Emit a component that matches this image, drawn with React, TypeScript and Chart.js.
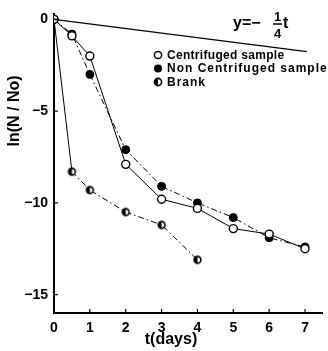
import React, { useEffect, useRef } from "react";
import { Chart, registerables } from "chart.js";

Chart.register(...registerables);

const days = [0, 0.5, 1, 2, 3, 4, 5, 6, 7];
const centrifuged = [0, -0.9, -2.0, -7.9, -9.8, -10.3, -11.4, -11.7, -12.5];
const nonCentrifuged = [0, -0.8, -3.0, -7.1, -9.1, -10.0, -10.8, -11.9, -12.4];
const blankDays = [0, 0.5, 1, 2, 3, 4];
const blank = [0, -8.3, -9.3, -10.5, -11.2, -13.1];
const refLineDays = [0, 7.05];
const refLine = [0, -1.76];
const xTicks = [0, 1, 2, 3, 4, 5, 6, 7];
const yTicks = [-15, -10, -5, 0];
const legendLabels = ["Centrifuged sample", "Non Centrifuged sample", "Brank"];

const FONT = "'Liberation Sans', Arial, sans-serif";

function toXY(xs: number[], ys: number[]) {
  return xs.map((x, i) => ({ x, y: ys[i] }));
}

function makeHalfCanvas(r: number) {
  const c = document.createElement("canvas");
  const s = Math.ceil(r * 2 + 4);
  c.width = s;
  c.height = s;
  const ctx = c.getContext("2d")!;
  drawHalf(ctx, s / 2, s / 2, r);
  return c;
}

function drawHalf(ctx: CanvasRenderingContext2D, x: number, y: number, r: number) {
  ctx.save();
  ctx.fillStyle = "#fff";
  ctx.beginPath();
  ctx.arc(x, y, r, 0, Math.PI * 2);
  ctx.fill();
  ctx.fillStyle = "#000";
  ctx.beginPath();
  ctx.arc(x, y, r, Math.PI / 2, (Math.PI * 3) / 2);
  ctx.closePath();
  ctx.fill();
  ctx.strokeStyle = "#000";
  ctx.lineWidth = 1.6;
  ctx.beginPath();
  ctx.arc(x, y, r, 0, Math.PI * 2);
  ctx.stroke();
  ctx.restore();
}

const decorPlugin = {
  id: "decor",
  afterDraw(chart: any) {
    const ctx: CanvasRenderingContext2D = chart.ctx;
    const xs = chart.scales.x;
    const ys = chart.scales.y;
    const ca = chart.chartArea;
    ctx.save();
    ctx.strokeStyle = "#000";
    ctx.lineWidth = 1.2;
    // inner ticks
    xTicks.forEach((v) => {
      if (v === 0) return;
      const px = xs.getPixelForValue(v);
      ctx.beginPath();
      ctx.moveTo(px, ca.bottom);
      ctx.lineTo(px, ca.bottom - 4);
      ctx.stroke();
    });
    yTicks.forEach((v) => {
      const py = ys.getPixelForValue(v);
      ctx.beginPath();
      ctx.moveTo(ca.left, py);
      ctx.lineTo(ca.left + 4, py);
      ctx.stroke();
    });

    // legend
    const lx = 158;
    const rows = [55, 68.5, 82];
    const spacing = ["0.3px", "1px", "1px"];
    ctx.font = `bold 12px ${FONT}`;
    ctx.textBaseline = "middle";
    ctx.textAlign = "left";
    ctx.fillStyle = "#000";
    rows.forEach((ry, i) => {
      if (i === 0) {
        ctx.fillStyle = "#fff";
        ctx.beginPath();
        ctx.arc(lx, ry, 3.6, 0, Math.PI * 2);
        ctx.fill();
        ctx.lineWidth = 1.5;
        ctx.stroke();
      } else if (i === 1) {
        ctx.fillStyle = "#000";
        ctx.beginPath();
        ctx.arc(lx, ry, 4, 0, Math.PI * 2);
        ctx.fill();
      } else {
        drawHalf(ctx, lx, ry, 3.6);
      }
      ctx.fillStyle = "#000";
      (ctx as any).letterSpacing = spacing[i];
      ctx.fillText(legendLabels[i], 167, ry + 0.5);
    });
    (ctx as any).letterSpacing = "0px";

    // equation y = -1/4 t
    ctx.font = `bold 16px ${FONT}`;
    ctx.textBaseline = "alphabetic";
    ctx.fillText("y=\u2212", 233, 28);
    ctx.font = `bold 13px ${FONT}`;
    ctx.textAlign = "center";
    ctx.fillText("1", 277.5, 21);
    ctx.fillText("4", 277.5, 38);
    ctx.lineWidth = 1.5;
    ctx.beginPath();
    ctx.moveTo(273, 24);
    ctx.lineTo(282, 24);
    ctx.stroke();
    ctx.font = `bold 16px ${FONT}`;
    ctx.textAlign = "left";
    ctx.fillText("t", 283, 28);

    // axis titles
    ctx.font = `bold 16px ${FONT}`;
    ctx.textAlign = "center";
    ctx.textBaseline = "middle";
    ctx.fillText("t(days)", 171, 340);
    ctx.save();
    ctx.translate(15, 111);
    ctx.rotate(-Math.PI / 2);
    ctx.fillText("ln(N / No)", 0, 0);
    ctx.restore();
    ctx.restore();
  },
};

export default function App() {
  const ref = useRef<HTMLCanvasElement | null>(null);
  useEffect(() => {
    if (!ref.current) return;
    const half = makeHalfCanvas(3.4);
    const dashDot = [6, 3, 1.5, 3];
    const chart = new Chart(ref.current, {
      type: "scatter",
      data: {
        datasets: [
          {
            label: "ref",
            data: toXY(refLineDays, refLine),
            showLine: true,
            borderColor: "#000",
            borderWidth: 1.3,
            pointRadius: 0,
          },
          {
            label: legendLabels[0],
            data: toXY(days, centrifuged),
            showLine: true,
            borderColor: "#000",
            borderWidth: 1,
            pointRadius: 4,
            pointBackgroundColor: "#fff",
            pointBorderColor: "#000",
            pointBorderWidth: 1.4,
          },
          {
            label: legendLabels[1],
            data: toXY(days, nonCentrifuged),
            showLine: true,
            borderColor: "#000",
            borderWidth: 1,
            borderDash: dashDot,
            pointRadius: 4,
            pointBackgroundColor: "#000",
            pointBorderColor: "#000",
            pointBorderWidth: 1,
          },
          {
            label: legendLabels[2],
            data: toXY(blankDays, blank),
            showLine: true,
            borderColor: "#000",
            borderWidth: 1,
            segment: {
              borderDash: (c: any) => (c.p0DataIndex === 0 ? [] : dashDot),
            },
            pointStyle: half as any,
            pointRadius: 4,
          },
        ],
      },
      options: {
        animation: false,
        responsive: true,
        maintainAspectRatio: false,
        layout: { padding: { top: 10, right: 0, left: 0, bottom: 0 } },
        plugins: {
          legend: { display: false },
          tooltip: { enabled: false },
        },
        scales: {
          x: {
            type: "linear",
            min: 0,
            max: 7.49,
            afterBuildTicks: (s: any) => {
              s.ticks = xTicks.map((v) => ({ value: v }));
            },
            afterFit: (s: any) => {
              s.height = 38;
            },
            grid: { display: true, drawOnChartArea: false, drawTicks: false },
            border: { display: true, color: "#000", width: 2 },
            ticks: {
              padding: 7,
              color: "#000",
              font: { family: FONT, size: 14, weight: "bold" },
              callback: (v: any) => String(v),
            },
          },
          y: {
            type: "linear",
            min: -16,
            max: 0.27,
            afterBuildTicks: (s: any) => {
              s.ticks = yTicks.map((v) => ({ value: v }));
            },
            afterFit: (s: any) => {
              s.width = 54;
            },
            grid: { display: true, drawOnChartArea: false, drawTicks: false },
            border: { display: true, color: "#000", width: 2 },
            ticks: {
              padding: 6,
              color: "#000",
              font: { family: FONT, size: 14, weight: "bold" },
              callback: (v: any) => (v < 0 ? "\u2212" + Math.abs(v) : String(v)),
            },
          },
        },
      },
      plugins: [decorPlugin],
    });
    return () => chart.destroy();
  }, []);
  return (
    <div style={{ position: "fixed", left: 0, top: 0, width: 328, height: 351, background: "#fff" }}>
      <canvas ref={ref} />
    </div>
  );
}
